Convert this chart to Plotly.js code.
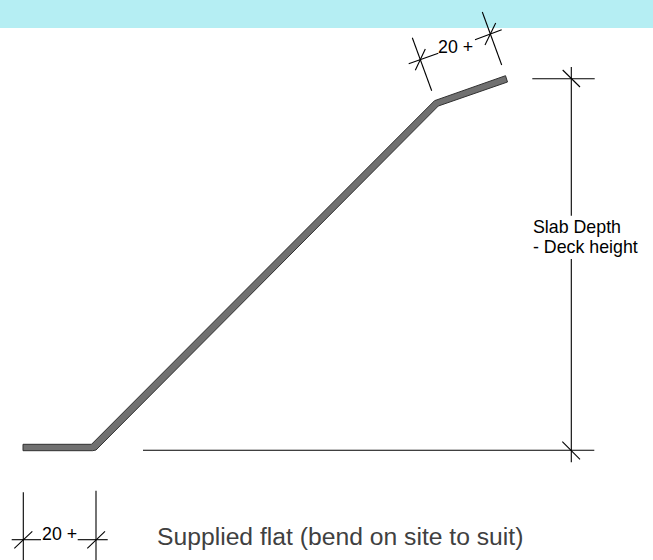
<!DOCTYPE html>
<html><head><meta charset="utf-8">
<script src="https://cdn.plot.ly/plotly-3.0.1.min.js"></script>
<style>html,body{margin:0;padding:0;background:#fff}</style></head>
<body><div id="chart" style="width:653px;height:560px"></div>
<script>
const bandX = [0,653,653,0,0];
const bandY = [0,0,28,28,0];
const deckX = [23,91.5,434.5,505.5,507.5,438.3,96,92.5,23,23];
const deckY = [444.3,444.3,100.7,75.7,82,106,450,450.7,450.7,444.3];
// dimension segments separated by null
const dimX = [412.3,431.7,null,415.3,425.3,null,408.7,438.3,null,482.3,501.7,null,485,495.7,null,475,501.7,null,
  571.3,571.3,null,571.3,571.3,null,532.3,594.7,null,562.7,580,null,143,594.3,null,562.3,580,null,
  23.3,23.3,null,96,96,null,11.7,41,null,77.7,107.7,null,14.3,32.3,null,87.3,105];
const dimY = [37.7,90.7,null,70.3,49,null,63.7,53.3,null,12,65,null,45,23,null,39.7,29.7,null,
  67,215.7,null,259,462.3,null,78.7,78.7,null,70,87,null,450.3,450.3,null,441.7,459.3,null,
  492.3,560,null,490.7,560,null,539.7,539.7,null,539.7,539.7,null,548.3,531.3,null,548.3,531.3];
const smallLabels = ["20 +","20 +","Slab Depth","- Deck height"];
const smallX = [438,42,533,533];
const smallY = [49,535.5,229,249];
const captionText = ["Supplied flat (bend on site to suit)"];
const captionX = [157];
const captionY = [539];
const data = [
 {x:bandX,y:bandY,mode:'lines',fill:'toself',fillcolor:'#b5eef3',line:{width:0,color:'#b5eef3'},hoverinfo:'skip'},
 {x:dimX,y:dimY,mode:'lines',line:{color:'#000',width:1.1},connectgaps:false,hoverinfo:'skip'},
 {x:deckX,y:deckY,mode:'lines',fill:'toself',fillcolor:'#707070',line:{color:'#303030',width:1},hoverinfo:'skip'},
 {x:smallX,y:smallY,mode:'text',text:smallLabels,textposition:'middle right',textfont:{family:'Liberation Sans, Arial, sans-serif',size:17.8,color:'#000'},hoverinfo:'skip'},
 {x:captionX,y:captionY,mode:'text',text:captionText,textposition:'middle right',textfont:{family:'Liberation Sans, Arial, sans-serif',size:24.7,color:'#404040'},hoverinfo:'skip'}
];
const layout = {width:653,height:560,margin:{l:0,r:0,t:0,b:0},showlegend:false,paper_bgcolor:'#fff',plot_bgcolor:'#fff',
 xaxis:{range:[0,653],visible:false,fixedrange:true},
 yaxis:{range:[560,0],visible:false,fixedrange:true}};
Plotly.newPlot('chart',data,layout,{displayModeBar:false,staticPlot:true});
</script></body></html>
